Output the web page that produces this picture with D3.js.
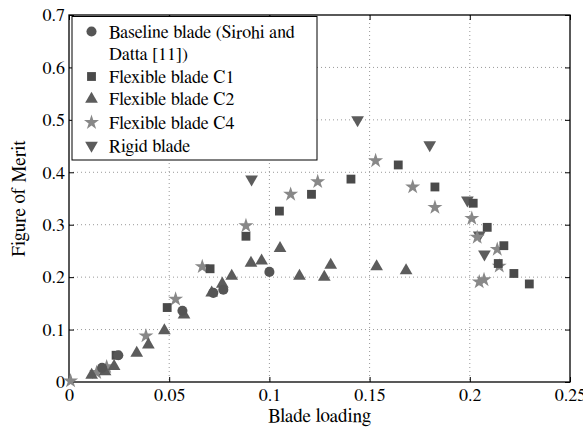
<!DOCTYPE html>
<html><head><meta charset="utf-8">
<script src="https://cdn.jsdelivr.net/npm/d3@7"></script>
</head><body style="margin:0"><svg id="c" width="583" height="431" font-family="FreeSerif"></svg>
<script>
const xTicks=[0,0.05,0.1,0.15,0.2,0.25];
const yTicks=[0,0.1,0.2,0.3,0.4,0.5,0.6,0.7];
const baseline=[[0.0165,0.027],[0.0246,0.051],[0.0566,0.136],[0.072,0.170],[0.077,0.176],[0.1,0.21]];
const c1=[[0.0235,0.051],[0.049,0.142],[0.0704,0.216],[0.0883,0.278],[0.105,0.326],[0.121,0.358],[0.1407,0.387],[0.1643,0.414],[0.1826,0.372],[0.2017,0.341],[0.2087,0.295],[0.217,0.26],[0.2142,0.226],[0.222,0.207],[0.2297,0.187]];
const c2=[[0.0113,0.013],[0.018,0.02],[0.0225,0.03],[0.0338,0.055],[0.0396,0.071],[0.0476,0.098],[0.0574,0.128],[0.0712,0.170],[0.0765,0.187],[0.0812,0.202],[0.0908,0.227],[0.0961,0.231],[0.1053,0.255],[0.115,0.202],[0.1274,0.2],[0.1306,0.223],[0.1535,0.22],[0.1682,0.2125]];
const c4=[[0.0008,0.002],[0.0138,0.018],[0.0188,0.029],[0.0384,0.088],[0.0532,0.158],[0.0665,0.22],[0.0883,0.298],[0.1106,0.358],[0.1241,0.382],[0.153,0.422],[0.1715,0.372],[0.1826,0.333],[0.201,0.312],[0.2037,0.276],[0.2137,0.253],[0.2147,0.221],[0.2047,0.191],[0.2071,0.195]];
const rigid=[[0.0911,0.387],[0.144,0.5],[0.18,0.452],[0.1988,0.347],[0.2047,0.28],[0.2073,0.244]];
const legendLabels=[["Baseline blade (Sirohi and","Datta [11])"],["Flexible blade C1"],["Flexible blade C2"],["Flexible blade C4"],["Rigid blade"]];

const FONT="FreeSerif";
const svg=d3.select("#c");
const L=69,R=570,T=15,B=382;
const x=d3.scaleLinear().domain([0,0.25]).range([L,R]);
const y=d3.scaleLinear().domain([0,0.7]).range([B,T]);
const g=svg.append("g");
g.selectAll(".gx").data(xTicks.slice(1,-1)).join("line").attr("x1",d=>x(d)).attr("x2",d=>x(d)).attr("y1",T).attr("y2",B).attr("stroke","#999").attr("stroke-dasharray","1,3");
g.selectAll(".gy").data(yTicks.slice(1,-1)).join("line").attr("y1",d=>y(d)).attr("y2",d=>y(d)).attr("x1",L).attr("x2",R).attr("stroke","#999").attr("stroke-dasharray","1,3");
const fmt=d=>d===0?"0":String(d);
const axes=[
 svg.append("g").attr("transform",`translate(0,${B})`).call(d3.axisBottom(x).tickValues(xTicks).tickFormat(fmt).tickSizeInner(-5).tickSizeOuter(0).tickPadding(6)),
 svg.append("g").attr("transform",`translate(${L},0)`).call(d3.axisLeft(y).tickValues(yTicks).tickFormat(fmt).tickSizeInner(-5).tickSizeOuter(0).tickPadding(4)),
 svg.append("g").attr("transform",`translate(0,${T})`).call(d3.axisTop(x).tickValues(xTicks).tickFormat("").tickSizeInner(-5).tickSizeOuter(0)),
 svg.append("g").attr("transform",`translate(${R},0)`).call(d3.axisRight(y).tickValues(yTicks).tickFormat("").tickSizeInner(-5).tickSizeOuter(0))
];
axes.forEach(a=>a.attr("font-family",FONT).attr("font-size",18));
svg.selectAll(".domain").remove();
svg.selectAll(".tick text").attr("fill","#000").attr("font-family",FONT).attr("font-size",18);
svg.selectAll(".tick line").attr("stroke","#000");
svg.append("rect").attr("x",L).attr("y",T).attr("width",R-L).attr("height",B-T).attr("fill","none").attr("stroke","#000").attr("stroke-width",1.3);
svg.append("text").attr("x",(L+R)/2).attr("y",422).attr("text-anchor","middle").attr("font-family",FONT).attr("font-size",19).text("Blade loading");
svg.append("text").attr("transform",`translate(25,${(T+B)/2}) rotate(-90)`).attr("text-anchor","middle").attr("font-family",FONT).attr("font-size",19).text("Figure of Merit");
const series=[
 {data:baseline,sym:d3.symbolCircle,size:80,color:"#555"},
 {data:c1,sym:d3.symbolSquare,size:78,color:"#4a4a4a"},
 {data:c2,sym:d3.symbolTriangle,size:70,color:"#5c5c5c"},
 {data:c4,sym:d3.symbolStar,size:70,color:"#888"},
 {data:rigid,sym:d3.symbolTriangle,size:70,color:"#5c5c5c",rot:180}
];
const plot=svg.append("g");
[4,3,2,1,0].forEach(i=>{
  const s=series[i];
  plot.append("g").selectAll("path").data(s.data).join("path")
   .attr("d",d3.symbol().type(s.sym).size(s.size))
   .attr("transform",d=>`translate(${x(d[0])},${y(d[1])})${s.rot?" rotate(180)":""}`)
   .attr("fill",s.color);
});
svg.append("rect").attr("x",72).attr("y",16.5).attr("width",245).attr("height",143.5).attr("fill","#fff").attr("stroke","#000").attr("stroke-width",1);
const baselines=[[37.5,60],[82.5],[105],[128.5],[151.5]];
legendLabels.forEach((lab,i)=>{
  const s=series[i];
  svg.append("path").attr("d",d3.symbol().type(s.sym).size(s.size)).attr("transform",`translate(91.5,${baselines[i][0]-6})${s.rot?" rotate(180)":""}`).attr("fill",s.color);
  lab.forEach((t,j)=>{
    svg.append("text").attr("x",109).attr("y",baselines[i][j]).attr("font-family",FONT).attr("font-size",18).attr("fill","#000").text(t);
  });
});
</script></body></html>
